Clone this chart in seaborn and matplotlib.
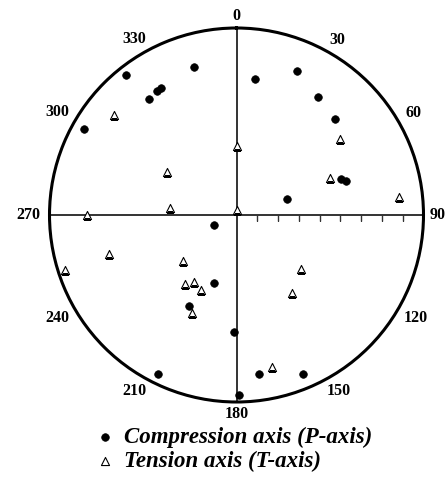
import numpy as np
import pandas as pd
import matplotlib
matplotlib.use("Agg")
import matplotlib.pyplot as plt
import seaborn as sns

# P-axis (compression) trend / plunge in degrees
p_trend = [344.0, 321.7, 323.1, 327.4, 329.3, 299.4, 7.9, 22.7, 34.5, 45.7,
           71.1, 72.8, 72.2, 246.0, 198.2, 207.4, 181.1, 206.3, 171.9, 157.2, 179.1]
p_plunge = [15.7, 4.1, 20.0, 19.2, 19.1, 5.9, 23.8, 15.0, 21.1, 23.8,
            37.0, 34.8, 64.3, 78.1, 55.4, 40.7, 33.8, 4.8, 12.9, 7.1, 3.4]
# T-axis (tension) trend / plunge in degrees
t_trend = [309.2, 0.7, 53.8, 301.5, 68.3, 83.7, 275.8, 9.0, 270.0, 253.0,
           229.2, 252.2, 216.6, 212.3, 205.3, 204.2, 130.2, 144.6, 166.7]
t_plunge = [13.9, 56.8, 28.3, 50.6, 41.5, 11.2, 57.8, 87.5, 17.9, 26.0,
            56.2, 3.3, 48.5, 52.0, 50.0, 38.1, 49.5, 44.1, 15.0]

azimuth_labels = ["0", "30", "60", "90", "120", "150", "180", "210", "240", "270", "300", "330"]
legend_labels = ["Compression axis (P-axis)", "Tension axis (T-axis)"]

dfp = pd.DataFrame({"theta": np.deg2rad(p_trend), "r": 90 - np.array(p_plunge)})
dft = pd.DataFrame({"theta": np.deg2rad(t_trend), "r": 90 - np.array(t_plunge)})

sns.set_theme(style="white")
plt.rcParams["font.family"] = ["Liberation Serif", "DejaVu Serif"]
plt.rcParams["text.color"] = "black"

fig = plt.figure(figsize=(4.46, 4.93), dpi=100)
ax = fig.add_axes([49.5 / 446, 91 / 493, 374 / 446, 374 / 493], projection="polar")
ax.set_theta_zero_location("N")
ax.set_theta_direction(-1)
ax.set_rlim(0, 90)
ax.grid(False)
ax.set_yticks([])
ax.set_xticks(np.deg2rad(np.arange(0, 360, 30)))
ax.set_xticklabels([])
ax.tick_params(axis="x", direction="inout", length=6, width=1, color="black")
ax.spines["polar"].set_linewidth(2.2)
ax.spines["polar"].set_color("black")

# crosshair
ax.vlines(np.deg2rad([0, 90, 180, 270]), 0, 90, color="#333333", lw=1.4, zorder=1)
# scale ticks along east axis
ax.plot(np.full(8, np.pi / 2), np.arange(10, 90, 10), ls="none", marker=3,
        ms=4, mew=1, color="#333333", zorder=1)

# azimuth labels
for i, lab in enumerate(azimuth_labels):
    a = i * 30
    s = abs(np.sin(np.deg2rad(a)))
    f = 1.065 + 0.014 * len(lab) * s + 0.005 * s
    if lab == "90":
        f = 1.075
    ax.text(np.deg2rad(a), 90 * f, lab, ha="center", va="center",
            fontsize=11.5, fontweight="bold", color="black")

sns.scatterplot(data=dfp, x="theta", y="r", ax=ax, marker="o", s=30,
                color="black", edgecolor="black", linewidth=0.5,
                label=legend_labels[0], zorder=3)
sns.scatterplot(data=dft, x="theta", y="r", ax=ax, marker="^", s=34,
                facecolor="white", edgecolor="black", linewidth=0.8,
                label=legend_labels[1], zorder=3)
ax.set_xlabel("")
ax.set_ylabel("")
ax.set_rlim(0, 90)

handles, labels = ax.get_legend_handles_labels()
if ax.legend_:
    ax.legend_.remove()
leg = fig.legend(handles, labels, loc="upper left", bbox_to_anchor=(94 / 446, 1 - 427 / 493),
                 frameon=False, handletextpad=0.38, labelspacing=0.12, borderaxespad=0,
                 borderpad=0, handlelength=0.95, labelcolor="black",
                 prop={"family": "Liberation Serif", "weight": "bold", "style": "italic", "size": 16.5})

fig.savefig("out.png", dpi=100)
